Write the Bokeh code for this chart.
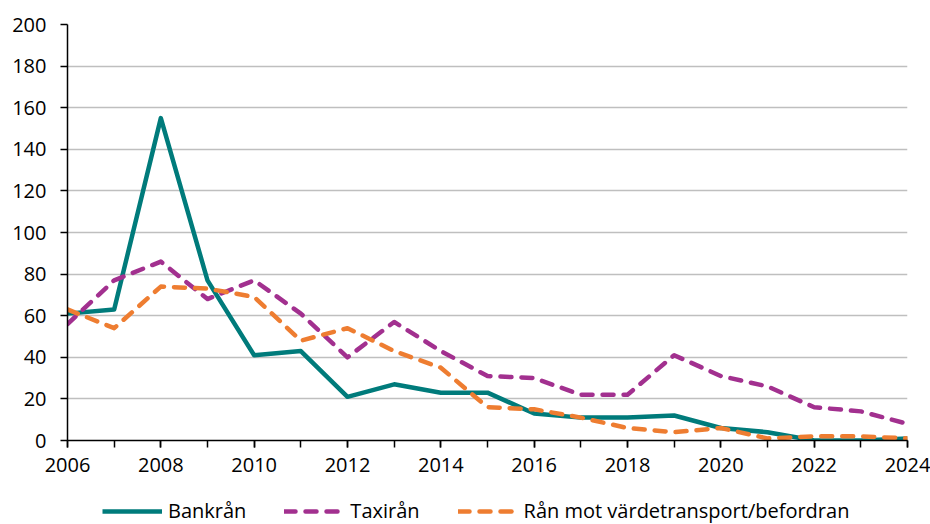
from bokeh.plotting import figure
from bokeh.models import Range1d, FixedTicker, Legend, LegendItem
from bokeh.layouts import column
from bokeh.embed import file_html
from bokeh.resources import INLINE

years = list(range(2006, 2025))
bankran = [61, 63, 155, 77, 41, 43, 21, 27, 23, 23, 13, 11, 11, 12, 6, 4, 0, 0, 1]
taxiran = [56, 77, 86, 68, 77, 61, 40, 57, 43, 31, 30, 22, 22, 41, 31, 26, 16, 14, 8]
vardetransport = [63, 54, 74, 73, 69, 48, 54, 43, 35, 16, 15, 11, 6, 4, 6, 1, 2, 2, 1]

series_names = ["Bankrån", "Taxirån", "Rån mot värdetransport/befordran"]
series_colors = ["#007B7B", "#A2308F", "#EE7D31"]
x_tick_labels = list(range(2006, 2025, 2))
y_ticks = list(range(0, 201, 20))

FONT = "Open Sans"
LW = 4.5
DASH = "11 10"

p = figure(width=930, height=490, output_backend="svg", toolbar_location=None,
           x_range=Range1d(2006, 2024), y_range=Range1d(0, 200),
           min_border_left=67, min_border_right=23, min_border_top=24, min_border_bottom=50)
p.outline_line_color = None
p.background_fill_color = "white"
p.border_fill_color = "white"

p.xgrid.grid_line_color = None
p.ygrid.grid_line_color = "#BFBFBF"
p.ygrid.grid_line_width = 1.5
p.ygrid.ticker = FixedTicker(ticks=y_ticks)

p.xaxis.ticker = FixedTicker(ticks=x_tick_labels, minor_ticks=years)
p.yaxis.ticker = FixedTicker(ticks=y_ticks)
for ax in (p.xaxis, p.yaxis):
    ax.axis_line_color = "black"
    ax.axis_line_width = 1.5
    ax.major_tick_line_color = "black"
    ax.major_tick_line_width = 1.5
    ax.major_tick_in = 0
    ax.major_tick_out = 7
    ax.minor_tick_in = 0
    ax.major_label_text_font = FONT
    ax.major_label_text_font_size = "20px"
    ax.major_label_text_color = "black"
p.xaxis.minor_tick_out = 7
p.xaxis.minor_tick_line_color = "black"
p.xaxis.minor_tick_line_width = 1.5
p.yaxis.minor_tick_line_color = None
p.xaxis.major_label_standoff = 10
p.yaxis.major_label_standoff = 14

p.line(years, bankran, line_color=series_colors[0], line_width=LW, line_join="round")
p.line(years, taxiran, line_color=series_colors[1], line_width=LW, line_dash=DASH,
       line_cap="round", line_join="round")
p.line(years, vardetransport, line_color=series_colors[2], line_width=LW, line_dash=DASH,
       line_cap="round", line_join="round")

# Legend strip below the chart: same series, drawn outside this strip's visible range,
# so only their legend glyphs show.
lg = figure(width=930, height=34, output_backend="svg", toolbar_location=None,
            x_range=Range1d(0, 1), y_range=Range1d(0, 1),
            x_axis_location=None, y_axis_location=None,
            min_border_left=0, min_border_right=0, min_border_top=0, min_border_bottom=0)
lg.outline_line_color = None
lg.grid.visible = False
l1 = lg.line(years, bankran, line_color=series_colors[0], line_width=LW)
l2 = lg.line(years, taxiran, line_color=series_colors[1], line_width=LW, line_dash=DASH, line_cap="round")
l3 = lg.line(years, vardetransport, line_color=series_colors[2], line_width=LW, line_dash=DASH, line_cap="round")

legend = Legend(items=[LegendItem(label=series_names[0], renderers=[l1]),
                       LegendItem(label=series_names[1], renderers=[l2]),
                       LegendItem(label=series_names[2], renderers=[l3])],
                orientation="horizontal", location=(35, 0),
                label_text_font=FONT, label_text_font_size="20px",
                label_text_color="black",
                glyph_width=60, label_standoff=6, spacing=38,
                border_line_color=None, background_fill_alpha=0,
                padding=0, margin=0)
lg.add_layout(legend, "center")

layout = column(p, lg, spacing=0)
open("out.html", "w").write(file_html(layout, INLINE))
